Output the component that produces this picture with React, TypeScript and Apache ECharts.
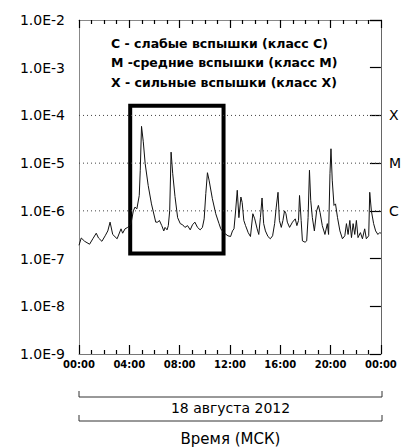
import React, { useEffect, useRef } from "react";
import * as echarts from "echarts";

// Time of day, hours (18 Aug 2012, MSK)
const hours = [
  0.0, 0.18, 0.45, 0.84, 1.1, 1.37, 1.55, 1.82, 2.08, 2.29, 2.47, 2.68, 3.03, 3.34, 3.47, 3.66, 3.87,
  4.13, 4.32, 4.45, 4.6, 4.79, 4.87, 4.97, 5.11, 5.26, 5.5, 5.76, 6.1, 6.26, 6.39, 6.58, 6.74, 6.84,
  7.0, 7.1, 7.21, 7.32, 7.45, 7.63, 7.84, 8.05, 8.24, 8.42, 8.63, 8.84, 9.02, 9.21, 9.42, 9.63, 9.81,
  9.95, 10.08, 10.21, 10.34, 10.6, 10.87, 11.13, 11.27, 11.5, 11.84, 12.05, 12.2, 12.32, 12.45, 12.58,
  12.71, 12.87, 12.97, 13.1, 13.24, 13.45, 13.63, 13.82, 13.97, 14.16, 14.29, 14.42, 14.55, 14.68,
  14.82, 15.02, 15.21, 15.39, 15.55, 15.68, 15.82, 15.93, 16.08, 16.21, 16.34, 16.45, 16.56, 16.74,
  16.97, 17.19, 17.32, 17.45, 17.53, 17.66, 17.76, 17.97, 18.1, 18.21, 18.32, 18.42, 18.55, 18.71,
  18.89, 19.03, 19.16, 19.34, 19.55, 19.74, 19.84, 19.95, 20.03, 20.13, 20.27, 20.39, 20.55, 20.74,
  20.94, 21.13, 21.26, 21.39, 21.53, 21.66, 21.79, 21.92, 22.05, 22.18, 22.37, 22.53, 22.71, 22.84,
  23.03, 23.11, 23.24, 23.42, 23.58, 23.76, 23.9, 24.0,
];

// X-ray flux, W/m^2
const flux = [
  1.9e-7, 2.7e-7, 2.3e-7, 2.0e-7, 2.6e-7, 3.4e-7, 2.7e-7, 2.3e-7, 3.0e-7, 3.8e-7, 5.8e-7, 3.2e-7, 2.6e-7, 4.2e-7, 3.4e-7, 4.2e-7, 4.5e-7,
  5.4e-7, 1.0e-6, 1.2e-6, 1.1e-6, 2.1e-6, 7.1e-6, 5.9e-5, 2.8e-5, 9.8e-6, 3.4e-6, 1.4e-6, 5.8e-7, 5.8e-7, 6.3e-7, 4.9e-7, 3.8e-7, 4.5e-7,
  4.0e-7, 4.9e-7, 1.0e-6, 1.7e-5, 6.0e-6, 2.0e-6, 7.2e-7, 5.4e-7, 5.1e-7, 4.5e-7, 4.9e-7, 4.0e-7, 5.1e-7, 5.8e-7, 4.5e-7, 4.0e-7, 4.5e-7,
  6.8e-7, 2.3e-6, 6.3e-6, 4.4e-6, 1.8e-6, 8.7e-7, 5.4e-7, 4.2e-7, 3.5e-7, 3.0e-7, 2.9e-7, 3.8e-7, 4.2e-7, 1.0e-6, 2.7e-6,
  7.2e-7, 1.95e-6, 1.5e-6, 6.3e-7, 4.9e-7, 3.5e-7, 2.9e-7, 8.7e-7, 6.8e-7, 4.2e-7, 3.2e-7, 7.2e-7, 1.86e-6, 5.4e-7,
  3.8e-7, 2.9e-7, 2.6e-7, 3.0e-7, 5.4e-7, 1.2e-6, 2.45e-6, 6.3e-7, 4.5e-7, 6.3e-7, 1.0e-6, 8.7e-7, 5.8e-7, 4.5e-7,
  5.8e-7, 6.8e-7, 4.9e-7, 6.3e-7, 2.1e-6, 6.3e-7, 2.35e-7, 2.2e-7, 2.35e-7, 7.2e-7, 7.1e-6, 1.66e-6, 7.2e-7, 3.8e-7,
  1.0e-6, 1.3e-6, 9.3e-7, 4.9e-7, 3.2e-7, 5.4e-7, 3.2e-7, 6.0e-6, 2.0e-5, 4.4e-6, 1.3e-6, 1.4e-6, 7.2e-7, 3.8e-7,
  2.6e-7, 3.0e-7, 5.4e-7, 3.2e-7, 6.3e-7, 2.75e-7, 5.4e-7, 3.2e-7, 6.3e-7, 2.75e-7, 3.5e-7, 2.6e-7, 4.2e-7, 2.6e-7,
  3.0e-7, 2.45e-6, 1.0e-6, 5.4e-7, 3.8e-7, 3.2e-7, 3.5e-7, 3.4e-7,
];

const xTickLabels = ["00:00", "04:00", "08:00", "12:00", "16:00", "20:00", "00:00"];
const yTickLabels = ["1.0E-9", "1.0E-8", "1.0E-7", "1.0E-6", "1.0E-5", "1.0E-4", "1.0E-3", "1.0E-2"];
const classLevels = [1e-4, 1e-5, 1e-6];
const classNames = ["X", "M", "C"];
const legendLines = [
  "C - слабые вспышки (класс C)",
  "M -средние вспышки (класс M)",
  "X - сильные вспышки (класс X)",
];
// highlighted interval: [start hour, end hour], [low flux, high flux]
const boxHours = [4.07, 11.49];
const boxFlux = [1.27e-7, 1.6e-4];
const dateText = "18 августа 2012";
const axisTitle = "Время (МСК)";

const FONT = "DejaVu Sans";
const X_MIN = 0, X_MAX = 24, Y_MIN = 1e-9, Y_MAX = 1e-2;

export default function App() {
  const ref = useRef<HTMLDivElement>(null);
  useEffect(() => {
    const chart = echarts.init(ref.current!, null, { renderer: "svg" });
    const data = hours.map((h, i) => [h, flux[i]]);
    const gl = 79, gr = 382, gt = 20, gb = 354;

    const xBase = {
      type: "value", min: X_MIN, max: X_MAX, interval: 4,
      splitLine: { show: false },
      minorSplitLine: { show: false },
    };
    const yBase = {
      type: "log", logBase: 10, min: Y_MIN, max: Y_MAX, splitNumber: 7,
      splitLine: { show: false },
    };

    chart.setOption({
      animation: false,
      grid: { left: gl, right: 404 - gr, top: gt, bottom: 447 - gb, show: false },
      xAxis: [
        {
          ...xBase, position: "bottom",
          axisLine: { show: true, onZero: false, lineStyle: { color: "#777", width: 1 } },
          axisTick: { show: true, inside: true, length: 9, lineStyle: { color: "#000", width: 1.2 } },
          minorTick: { show: true, splitNumber: 4, length: 4, lineStyle: { color: "#000", width: 1.2 } },
          axisLabel: {
            show: true, margin: 5, fontFamily: FONT, fontSize: 10, fontWeight: "bold", color: "#000",
            formatter: (v: number) => xTickLabels[Math.round(v / 4)] ?? "",
          },
        },
        {
          ...xBase, position: "top",
          axisLine: { show: true, onZero: false, lineStyle: { color: "#888", width: 1 } },
          axisTick: { show: true, inside: true, length: 8, lineStyle: { color: "#000", width: 1.2 } },
          minorTick: { show: true, splitNumber: 4, length: 4, lineStyle: { color: "#000", width: 1.2 } },
          axisLabel: { show: false },
        },
      ],
      yAxis: [
        {
          ...yBase, position: "left",
          axisLine: { show: true, onZero: false, lineStyle: { color: "#888", width: 1 } },
          axisTick: { show: false },
          axisLabel: {
            show: true, margin: 14, fontFamily: FONT, fontSize: 14, color: "#000",
            formatter: (v: number) => yTickLabels[Math.round(Math.log10(v)) + 9] ?? "",
          },
        },
        {
          ...yBase, position: "right",
          axisLine: { show: true, onZero: false, lineStyle: { color: "#666", width: 1 } },
          axisTick: { show: true, inside: true, length: 11, lineStyle: { color: "#000", width: 1.2 } },
          axisLabel: {
            show: true, margin: 8, fontFamily: FONT, fontSize: 14, color: "#000",
            formatter: (v: number) => {
              const e = Math.round(Math.log10(v));
              const i = classLevels.findIndex((c) => Math.round(Math.log10(c)) === e);
              return i >= 0 ? classNames[i] : "";
            },
          },
        },
      ],
      series: [
        ...classLevels.map((c) => ({
          type: "line",
          data: [[X_MIN, c], [X_MAX, c]],
          showSymbol: false,
          symbol: "none",
          silent: true,
          lineStyle: { type: [1, 3], color: "#444", width: 1 },
          z: 1,
        })),
        {
          type: "line",
          data,
          showSymbol: false,
          symbol: "none",
          lineStyle: { color: "#111", width: 1 },
          z: 3,
          markArea: {
            silent: true,
            itemStyle: { color: "rgba(0,0,0,0)", borderColor: "#000", borderWidth: 4 },
            data: [[{ xAxis: boxHours[0], yAxis: boxFlux[1] }, { xAxis: boxHours[1], yAxis: boxFlux[0] }]],
          },
        },
      ],
      graphic: [
        ...legendLines.map((t, i) => ({
          type: "text",
          x: 111,
          y: 43 + i * 19.5,
          style: {
            text: t, fontFamily: FONT, fontSize: 12.5, fontWeight: "bold", fill: "#000",
            align: "left", verticalAlign: "middle",
          },
        })),
        {
          type: "polyline",
          shape: { points: [[gl, 391], [gl, 397], [gr, 397], [gr, 391]] },
          style: { stroke: "#333", lineWidth: 1, fill: null },
        },
        {
          type: "text", x: (gl + gr) / 2, y: 408,
          style: { text: dateText, fontFamily: FONT, fontSize: 14, fill: "#000", align: "center", verticalAlign: "middle" },
        },
        {
          type: "polyline",
          shape: { points: [[gl, 415], [gl, 421], [gr, 421], [gr, 415]] },
          style: { stroke: "#333", lineWidth: 1, fill: null },
        },
        {
          type: "text", x: (gl + gr) / 2, y: 439,
          style: { text: axisTitle, fontFamily: FONT, fontSize: 15, fill: "#000", align: "center", verticalAlign: "middle" },
        },
      ],
    });
    return () => chart.dispose();
  }, []);
  return (
    <div
      ref={ref}
      style={{ position: "fixed", left: 0, top: 0, width: 404, height: 447, background: "#fff" }}
    />
  );
}
